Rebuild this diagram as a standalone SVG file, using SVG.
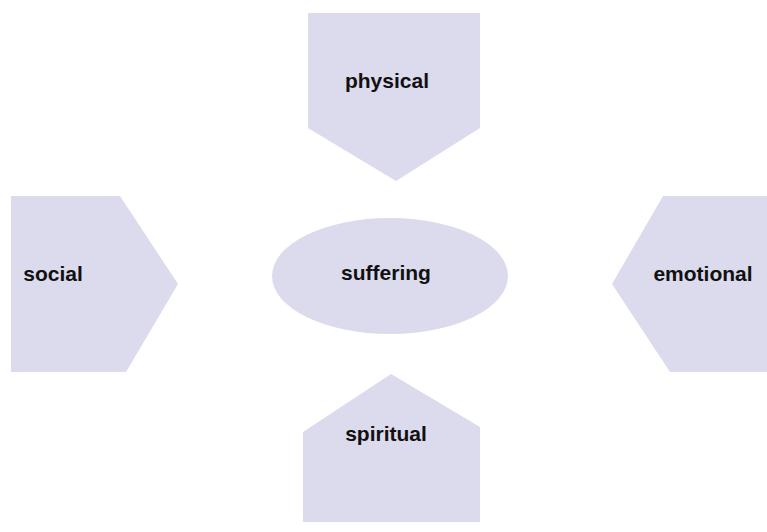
<svg xmlns="http://www.w3.org/2000/svg" width="767" height="532" viewBox="0 0 767 532">
<style>
.shape{fill:#dcdaed;stroke:none}
.lbl{font-family:"Liberation Sans",Arial,sans-serif;font-weight:bold;font-size:21px;fill:#111;text-anchor:middle}
</style>
<rect width="767" height="532" fill="#fff"/>
<g id="connectors"></g>
<g id="physical">
<polygon class="shape" points="308,13 480,13 480,128 396,181 308,128"/>
<text class="lbl" x="387" y="88">physical</text>
</g>
<g id="social">
<polygon class="shape" points="11,196 120,196 178,284 126,372 11,372"/>
<text class="lbl" x="53" y="281">social</text>
</g>
<g id="emotional">
<polygon class="shape" points="663,196 767,196 767,372 670,372 612,284"/>
<text class="lbl" x="703" y="281">emotional</text>
</g>
<g id="suffering">
<ellipse class="shape" cx="390" cy="276" rx="118" ry="58"/>
<text class="lbl" x="386" y="280">suffering</text>
</g>
<g id="spiritual">
<polygon class="shape" points="391,374 480,427 480,522 303,522 303,432"/>
<text class="lbl" x="386" y="441">spiritual</text>
</g>
</svg>
